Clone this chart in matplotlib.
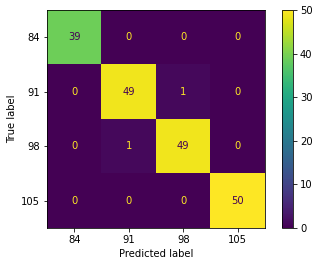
import numpy as np
import matplotlib
matplotlib.use("Agg")
import matplotlib.pyplot as plt

# class labels and confusion matrix counts
labels = ["84", "91", "98", "105"]
cm = np.array([[39, 0, 0, 0],
               [0, 49, 1, 0],
               [0, 1, 49, 0],
               [0, 0, 0, 50]])

fig = plt.figure(figsize=(319 / 72, 266 / 72), dpi=72)
ax = fig.add_axes([47 / 319, 38 / 266, 218 / 319, 218 / 266])
cax = fig.add_axes([282 / 319, 38 / 266, 11 / 319, 218 / 266])

cmap = plt.get_cmap("viridis")
im = ax.imshow(cm, cmap=cmap, interpolation="nearest")

# text color: light on dark cells, dark on light cells
thresh = (cm.max() + cm.min()) / 2.0
for i in range(cm.shape[0]):
    for j in range(cm.shape[1]):
        col = cmap(0) if cm[i, j] > thresh else cmap(256)
        ax.text(j, i, format(cm[i, j], "d"), ha="center", va="center", color=col, fontsize=10)

ax.set_xticks(np.arange(len(labels)))
ax.set_yticks(np.arange(len(labels)))
ax.set_xticklabels(labels)
ax.set_yticklabels(labels)
ax.set_xlabel("Predicted label")
ax.set_ylabel("True label")
ax.set_ylim(len(labels) - 0.5, -0.5)

fig.colorbar(im, cax=cax)

fig.savefig("out.png", dpi=72, facecolor="white")
